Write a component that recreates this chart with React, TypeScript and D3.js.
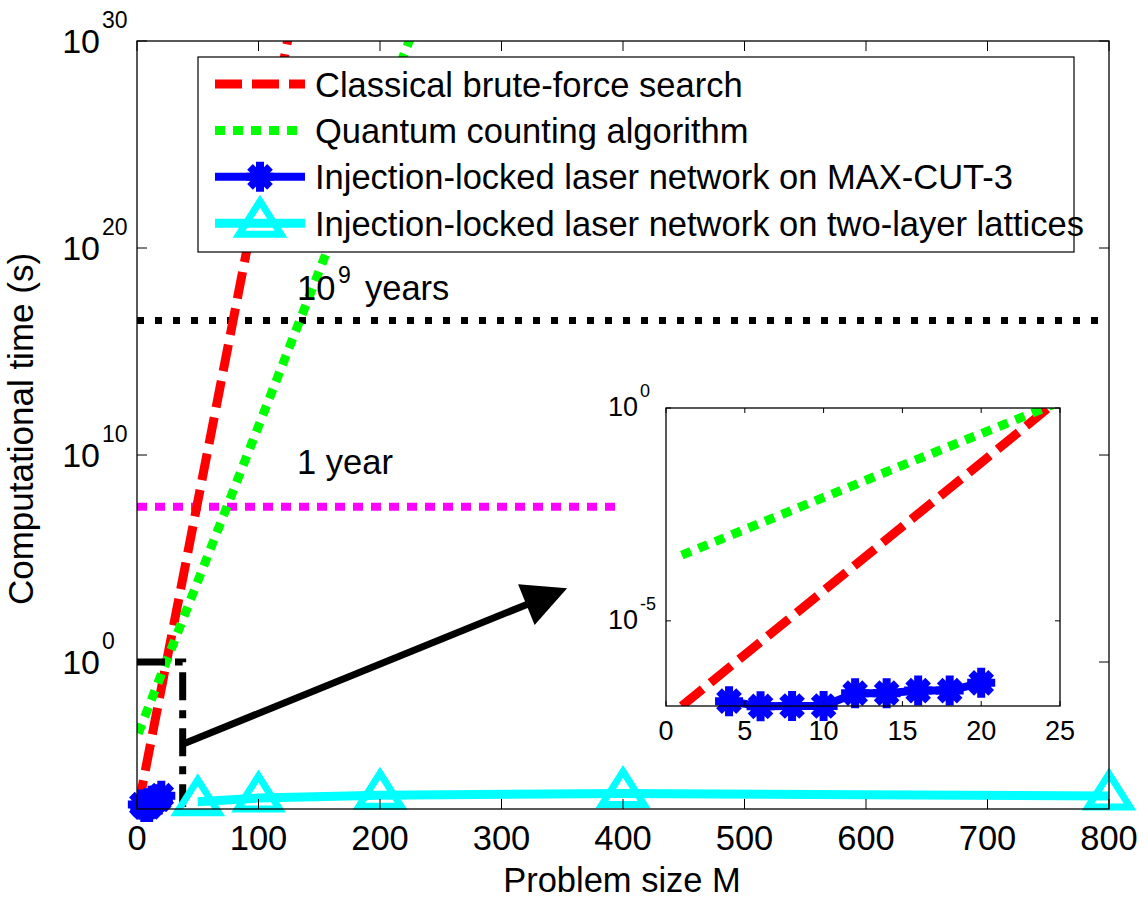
import React, { useEffect, useRef } from 'react';
import * as d3 from 'd3';

// values (time in seconds vs problem size M)
const classicalM = [1, 5, 10, 15, 20, 25, 50, 100, 150];
const classicalT = [1e-7, 1.6e-6, 5.1e-5, 1.64e-3, 5.2e-2, 1.68, 5.6e7, 6.3e22, 7.1e37];
const quantumM = [1, 5, 10, 15, 20, 25, 50, 100, 150, 200, 250];
const quantumT = [3.5e-4, 1.4e-3, 7.9e-3, 4.5e-2, 0.25, 1.4, 7.9e3, 2.5e11, 7.9e18, 2.5e26, 7.9e33];
const maxcutM = [4, 6, 8, 10, 12, 14, 16, 18, 20];
const maxcutT = [1.3e-7, 9.8e-8, 1e-7, 1e-7, 2e-7, 2e-7, 2.3e-7, 2.3e-7, 3.5e-7];
const latticeM = [50, 100, 200, 400, 800];
const latticeT = [1.8e-7, 2.7e-7, 3.7e-7, 4.5e-7, 3.4e-7];

const oneYear = 3.15e7;
const billionYears = 3.15e16;
const oneYearMaxM = 400;
const zoomBoxM = 37.6;
const zoomBoxT = [1e-7, 1];
const arrowFrom = [39.5, 1.2e-4];
const arrowTo = [354, 3.7e3];

const legendLabels = [
  'Classical brute-force search',
  'Quantum counting algorithm',
  'Injection-locked laser network on MAX-CUT-3',
  'Injection-locked laser network on two-layer lattices',
];
const xTicks = [0, 100, 200, 300, 400, 500, 600, 700, 800];
const yTickExps = [0, 10, 20, 30];
const insetXTicks = [0, 5, 10, 15, 20, 25];
const insetYTickExps = [-5, 0];

const FONT = '"Liberation Sans", Arial, Helvetica, sans-serif';
const asterisk = 'M-14,0H14M0,-15V15M-10,-10L10,10M-10,10L10,-10';
const triangle = 'M0,-22L21,11L-21,11Z';

const App = () => {
  const ref = useRef<SVGSVGElement>(null);

  useEffect(() => {
    const svg = d3.select(ref.current);
    svg.selectAll('*').remove();

    const x = d3.scaleLinear().domain([0, 800]).range([137, 1109]);
    const y = d3.scaleLog().domain([Math.pow(10, -7.1), 1e30]).range([809, 41]);
    const ix = d3.scaleLinear().domain([0, 25]).range([666, 1060]);
    const iy = d3.scaleLog().domain([1e-7, 1]).range([706, 408]);

    const defs = svg.append('defs');
    defs.append('clipPath').attr('id', 'clip-main')
      .append('rect').attr('x', 137).attr('y', 41).attr('width', 1109 - 137).attr('height', 809 - 41);
    defs.append('clipPath').attr('id', 'clip-inset')
      .append('rect').attr('x', 666).attr('y', 408).attr('width', 1060 - 666).attr('height', 706 - 408);

    svg.append('rect').attr('width', 1148).attr('height', 900).attr('fill', '#fff');

    // ---- main axes ----
    const main = svg.append('g');
    const plot = main.append('g').attr('clip-path', 'url(#clip-main)');

    const lineOf = (sx, sy) => d3.line<number[]>().x(d => sx(d[0])).y(d => sy(d[1]));
    const zip = (a: number[], b: number[]) => a.map((v, i) => [v, b[i]]);
    const lineMain = lineOf(x, y);

    // reference lines
    plot.append('path')
      .attr('d', lineMain([[0, billionYears], [800, billionYears]]))
      .attr('stroke', '#000').attr('stroke-width', 7).attr('stroke-dasharray', '7,11').attr('fill', 'none');
    plot.append('path')
      .attr('d', lineMain([[0, oneYear], [oneYearMaxM, oneYear]]))
      .attr('stroke', '#ff00ff').attr('stroke-width', 8).attr('stroke-dasharray', '10,8').attr('fill', 'none');

    plot.append('path')
      .attr('d', lineMain(zip(classicalM, classicalT)))
      .attr('stroke', '#ff0000').attr('stroke-width', 9).attr('stroke-dasharray', '27,10').attr('fill', 'none');
    plot.append('path')
      .attr('d', lineMain(zip(quantumM, quantumT)))
      .attr('stroke', '#00ff00').attr('stroke-width', 9).attr('stroke-dasharray', '10,8').attr('fill', 'none');

    // zoom box + arrow
    plot.append('path')
      .attr('d', lineMain([[0, zoomBoxT[1]], [zoomBoxM, zoomBoxT[1]], [zoomBoxM, zoomBoxT[0]]]))
      .attr('stroke', '#000').attr('stroke-width', 7).attr('stroke-dasharray', '28,10,8,10').attr('fill', 'none');

    main.append('path')
      .attr('d', lineMain(zip(maxcutM, maxcutT)))
      .attr('stroke', '#0000ff').attr('stroke-width', 8).attr('fill', 'none');
    main.append('path')
      .attr('d', lineMain(zip(latticeM, latticeT)))
      .attr('stroke', '#00ffff').attr('stroke-width', 9).attr('fill', 'none');

    const x0 = x(arrowFrom[0]), y0 = y(arrowFrom[1]);
    const x1 = x(arrowTo[0]), y1 = y(arrowTo[1]);
    const ang = Math.atan2(y1 - y0, x1 - x0);
    const headL = 44, headW = 22;
    const bx = x1 - headL * Math.cos(ang), by = y1 - headL * Math.sin(ang);
    main.append('line')
      .attr('x1', x0).attr('y1', y0).attr('x2', bx + 4 * Math.cos(ang)).attr('y2', by + 4 * Math.sin(ang))
      .attr('stroke', '#000').attr('stroke-width', 7);
    main.append('path')
      .attr('d', `M${x1},${y1}L${bx - headW * Math.sin(ang)},${by + headW * Math.cos(ang)}L${bx + headW * Math.sin(ang)},${by - headW * Math.cos(ang)}Z`)
      .attr('fill', '#000');

    // markers
    main.selectAll('.mc').data(zip(maxcutM, maxcutT)).enter().append('path')
      .attr('d', asterisk).attr('transform', d => `translate(${x(d[0])},${y(d[1])})`)
      .attr('stroke', '#0000ff').attr('stroke-width', 8).attr('fill', 'none');
    main.selectAll('.lt').data(zip(latticeM, latticeT)).enter().append('path')
      .attr('d', triangle).attr('transform', d => `translate(${x(d[0])},${y(d[1])})`)
      .attr('stroke', '#00ffff').attr('stroke-width', 7).attr('fill', 'none');

    // frame + ticks
    main.append('rect').attr('x', 137).attr('y', 41).attr('width', 1109 - 137).attr('height', 809 - 41)
      .attr('fill', 'none').attr('stroke', '#000').attr('stroke-width', 1.3);
    xTicks.forEach(t => {
      main.append('line').attr('x1', x(t)).attr('x2', x(t)).attr('y1', 809).attr('y2', 799).attr('stroke', '#000');
      main.append('line').attr('x1', x(t)).attr('x2', x(t)).attr('y1', 41).attr('y2', 51).attr('stroke', '#000');
      main.append('text').attr('x', x(t)).attr('y', 850).attr('text-anchor', 'middle')
        .attr('font-size', 34.5).attr('font-family', FONT).text(t);
    });
    yTickExps.forEach(e => {
      const ty = y(Math.pow(10, e));
      main.append('line').attr('x1', 137).attr('x2', 147).attr('y1', ty).attr('y2', ty).attr('stroke', '#000');
      main.append('line').attr('x1', 1109).attr('x2', 1099).attr('y1', ty).attr('y2', ty).attr('stroke', '#000');
      main.append('text').attr('x', 100).attr('y', ty + 12).attr('text-anchor', 'end')
        .attr('font-size', 34).attr('font-family', FONT).text('10');
      main.append('text').attr('x', 102).attr('y', ty - 13)
        .attr('font-size', 23).attr('font-family', FONT).text(e);
    });

    // annotations
    main.append('text').attr('x', 297).attr('y', 300).attr('font-size', 34.5).attr('font-family', FONT).text('10');
    main.append('text').attr('x', 338).attr('y', 283).attr('font-size', 23).attr('font-family', FONT).text('9');
    main.append('text').attr('x', 365).attr('y', 300).attr('font-size', 34.5).attr('font-family', FONT).text(' years');
    main.append('text').attr('x', 297).attr('y', 474).attr('font-size', 34.5).attr('font-family', FONT).text('1 year');

    // axis labels
    main.append('text').attr('x', 622).attr('y', 892).attr('text-anchor', 'middle')
      .attr('font-size', 34.5).attr('font-family', FONT).text('Problem size M');
    main.append('text').attr('transform', 'translate(33,429) rotate(-90)').attr('text-anchor', 'middle')
      .attr('font-size', 35).attr('font-family', FONT).text('Computational time (s)');

    // ---- legend ----
    const legend = svg.append('g');
    legend.append('rect').attr('x', 198).attr('y', 57).attr('width', 1074 - 198).attr('height', 252 - 57)
      .attr('fill', '#fff').attr('stroke', '#000').attr('stroke-width', 1.2);
    const rowY = i => 84 + i * 46.4;
    const legendStyles = [
      { color: '#ff0000', dash: '27,10', width: 9, marker: null },
      { color: '#00ff00', dash: '10,8', width: 9, marker: null },
      { color: '#0000ff', dash: null, width: 8, marker: asterisk },
      { color: '#00ffff', dash: null, width: 9, marker: triangle },
    ];
    legendLabels.forEach((label, i) => {
      const s = legendStyles[i];
      const ly = rowY(i);
      legend.append('line').attr('x1', 215).attr('x2', 305).attr('y1', ly).attr('y2', ly)
        .attr('stroke', s.color).attr('stroke-width', s.width).attr('stroke-dasharray', s.dash);
      if (s.marker) {
        legend.append('path').attr('d', s.marker).attr('transform', `translate(260,${ly})`)
          .attr('stroke', s.color).attr('stroke-width', i === 3 ? 7 : 8).attr('fill', 'none');
      }
      legend.append('text').attr('x', 315).attr('y', ly + 12.5)
        .attr('font-size', 34.5).attr('font-family', FONT).text(label);
    });

    // ---- inset ----
    const inset = svg.append('g');
    inset.append('rect').attr('x', 666).attr('y', 408).attr('width', 1060 - 666).attr('height', 706 - 408)
      .attr('fill', '#fff');
    const iplot = inset.append('g').attr('clip-path', 'url(#clip-inset)');
    const lineInset = lineOf(ix, iy);
    iplot.append('path')
      .attr('d', lineInset(zip(classicalM, classicalT)))
      .attr('stroke', '#ff0000').attr('stroke-width', 9).attr('stroke-dasharray', '27,10').attr('fill', 'none');
    iplot.append('path')
      .attr('d', lineInset(zip(quantumM, quantumT)))
      .attr('stroke', '#00ff00').attr('stroke-width', 9).attr('stroke-dasharray', '10,8').attr('fill', 'none');
    inset.append('path')
      .attr('d', lineInset(zip(maxcutM, maxcutT)))
      .attr('stroke', '#0000ff').attr('stroke-width', 8).attr('fill', 'none');
    inset.selectAll('.imc').data(zip(maxcutM, maxcutT)).enter().append('path')
      .attr('d', asterisk).attr('transform', d => `translate(${ix(d[0])},${iy(d[1])})`)
      .attr('stroke', '#0000ff').attr('stroke-width', 8).attr('fill', 'none');

    inset.append('rect').attr('x', 666).attr('y', 408).attr('width', 1060 - 666).attr('height', 706 - 408)
      .attr('fill', 'none').attr('stroke', '#000').attr('stroke-width', 1.3);
    insetXTicks.forEach(t => {
      inset.append('line').attr('x1', ix(t)).attr('x2', ix(t)).attr('y1', 706).attr('y2', 701).attr('stroke', '#000');
      inset.append('line').attr('x1', ix(t)).attr('x2', ix(t)).attr('y1', 408).attr('y2', 413).attr('stroke', '#000');
      inset.append('text').attr('x', ix(t)).attr('y', 740).attr('text-anchor', 'middle')
        .attr('font-size', 27).attr('font-family', FONT).text(t);
    });
    insetYTickExps.forEach(e => {
      const ty = iy(Math.pow(10, e));
      inset.append('line').attr('x1', 666).attr('x2', 671).attr('y1', ty).attr('y2', ty).attr('stroke', '#000');
      inset.append('line').attr('x1', 1060).attr('x2', 1055).attr('y1', ty).attr('y2', ty).attr('stroke', '#000');
      inset.append('text').attr('x', 638).attr('y', ty + 8).attr('text-anchor', 'end')
        .attr('font-size', 27).attr('font-family', FONT).text('10');
      inset.append('text').attr('x', 640).attr('y', ty - 11)
        .attr('font-size', 18).attr('font-family', FONT).text(e);
    });
  }, []);

  return (
    <svg ref={ref} width={1148} height={900} style={{ position: 'absolute', left: 0, top: 0 }} />
  );
};

export default App;
